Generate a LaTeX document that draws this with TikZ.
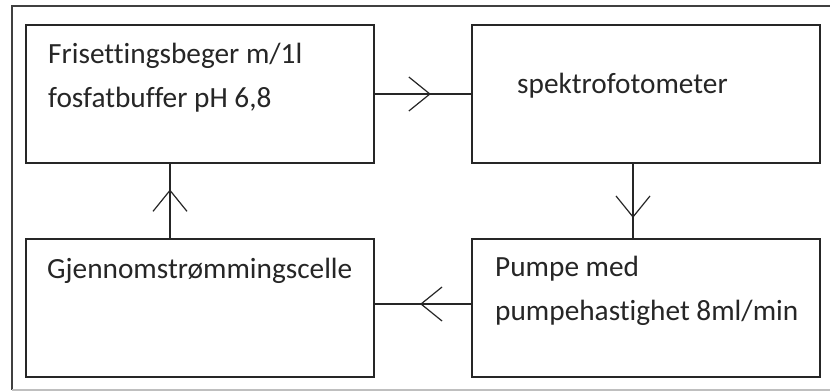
\documentclass[tikz,border=0pt]{standalone}
\usepackage{fontspec}
\setmainfont[Ligatures=NoCommon]{Carlito}
\usetikzlibrary{positioning, calc, decorations.markings}

\begin{document}
\begin{tikzpicture}[
        x=1pt, y=-1pt,
        stageBox/.style={
            draw=black!85,
            line width=1.6pt,
            minimum width=348pt,
            minimum height=138pt,
            inner sep=0pt,
            outer sep=0pt
        },
        stageText/.style={
            anchor=base west,
            align=left,
            inner sep=0pt,
            font=\fontsize{29.3}{44}\selectfont,
            text=black!85
        },
        flow/.style={
            draw=black!85,
            line width=1.6pt,
            postaction={decorate},
            decoration={
                markings,
                mark=at position #1 with {
                    \draw[line width=1.2pt] (-21pt,17pt) -- (0pt,0pt) -- (-21pt,-17pt);
                }
            }
        },
        flow/.default=0.6
    ]

        \useasboundingbox (0,0) rectangle (830,391);
        \fill[white] (0,0) rectangle (830,391);

        % Outer frame
        \draw[black!75, line width=1.6pt] (840,6) -- (12,6) -- (12,390);
        \draw[gray!50, line width=1.2pt] (12,390) -- (840,390);

        % Row 1
        \node[
            stageBox,
            anchor=north west
        ] (flask) at (26,25) {};

        \node[
            stageBox,
            right=98pt of flask
        ] (spectro) {};

        % Row 2
        \node[
            stageBox,
            below=76pt of flask
        ] (cell) {};

        \node[
            stageBox,
            right=98pt of cell
        ] (pump) {};

        % Labels (base = last line)
        \node[stageText] (flaskText) at ($(flask.north west)+(22,82)$) {
            Frisettingsbeger m/1l\\
            fosfatbuffer pH 6,8
        };

        \node[stageText] (spectroText) at ($(spectro.north west)+(45,68)$) {
            spektrofotometer
        };

        \node[stageText] (cellText) at ($(cell.north west)+(21,39)$) {
            Gjennomstrømmingscelle
        };

        \node[stageText] (pumpText) at ($(pump.north west)+(23,81)$) {
            Pumpe med\\
            pumpehastighet 8ml/min
        };

        % Connectors
        \draw[flow=0.57] (flask.east) -- (spectro.west);
        \draw[flow=0.71] ([xshift=-13pt]spectro.south) -- ([xshift=-13pt]spectro.south |- pump.north);
        \draw[flow=0.52] ([yshift=4pt]pump.west) -- ([yshift=4pt]pump.west -| cell.east);
        \draw[flow=0.64] ([xshift=-30pt]cell.north) -- ([xshift=-30pt]cell.north |- flask.south);

    \end{tikzpicture}
\end{document}
